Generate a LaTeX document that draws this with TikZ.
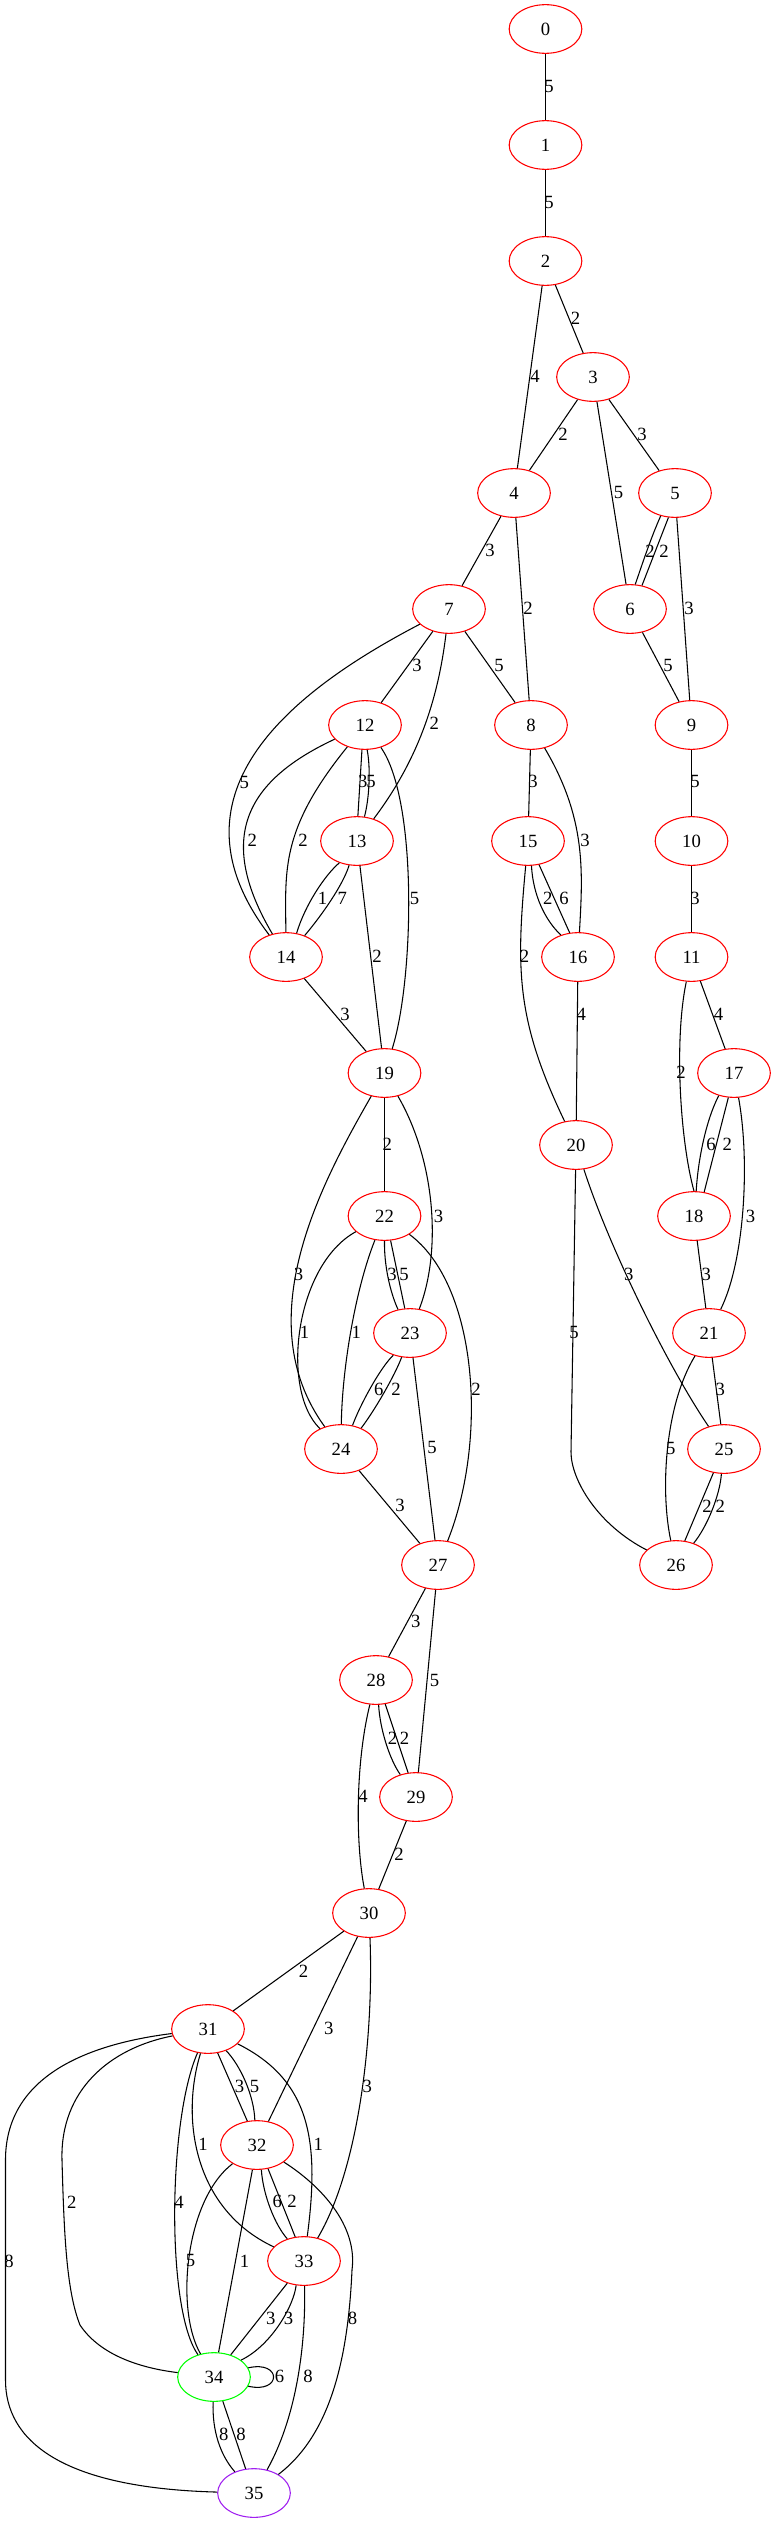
\documentclass[tikz,border=0pt]{standalone}
\usepackage{fontspec}
\setmainfont{Liberation Serif}
\usetikzlibrary{shapes.geometric}
\definecolor{vgreen}{RGB}{0,255,0}
\definecolor{vpurple}{RGB}{160,32,240}
\begin{document}
\begin{tikzpicture}[x=0.75pt, y=-0.75pt,
        vtx/.style={ellipse, draw=red, line width=0.8pt, minimum width=54.5pt, minimum height=36.5pt, inner sep=0pt, font=\fontsize{14}{16}\selectfont},
        wt/.style={inner sep=0pt, font=\fontsize{14}{16}\selectfont},
        lk/.style={line width=0.8pt}]
        \useasboundingbox (0,0) rectangle (776,2523);

        % vertices
        \node[vtx] (n0) at (545.5,29) {0};
        \node[vtx] (n1) at (545.5,145) {1};
        \node[vtx] (n2) at (545.5,261) {2};
        \node[vtx] (n3) at (593,377) {3};
        \node[vtx] (n4) at (514,493) {4};
        \node[vtx] (n5) at (675,493) {5};
        \node[vtx] (n6) at (630,609) {6};
        \node[vtx] (n7) at (449,609) {7};
        \node[vtx] (n8) at (531,725) {8};
        \node[vtx] (n9) at (691.5,725) {9};
        \node[vtx] (n10) at (691.5,841) {10};
        \node[vtx] (n11) at (691.5,957) {11};
        \node[vtx] (n12) at (365,725) {12};
        \node[vtx] (n13) at (357,841) {13};
        \node[vtx] (n14) at (286,957) {14};
        \node[vtx] (n15) at (528,841) {15};
        \node[vtx] (n16) at (578,957) {16};
        \node[vtx] (n17) at (734,1073) {17};
        \node[vtx] (n18) at (694,1216) {18};
        \node[vtx] (n19) at (384.5,1073) {19};
        \node[vtx] (n20) at (576,1145) {20};
        \node[vtx] (n21) at (709,1333) {21};
        \node[vtx] (n22) at (384.5,1216) {22};
        \node[vtx] (n23) at (410,1333) {23};
        \node[vtx] (n24) at (341,1449) {24};
        \node[vtx] (n25) at (724,1449) {25};
        \node[vtx] (n26) at (676,1565) {26};
        \node[vtx] (n27) at (438,1565) {27};
        \node[vtx] (n28) at (376,1680) {28};
        \node[vtx] (n29) at (416,1797) {29};
        \node[vtx] (n30) at (369,1913) {30};
        \node[vtx] (n31) at (208,2029) {31};
        \node[vtx] (n32) at (257,2145) {32};
        \node[vtx] (n33) at (304,2261) {33};
        \node[vtx, draw=vgreen] (n34) at (214,2377) {34};
        \node[vtx, draw=vpurple] (n35) at (254,2493) {35};

        % upper part
        \draw[lk] (n0) -- (n1) node[wt] at (549,86) {5};
        \draw[lk] (n1) -- (n2) node[wt] at (549,202) {5};
        \draw[lk] (n2) -- (n3) node[wt] at (575.5,318) {2};
        \draw[lk] (n2) -- (n4) node[wt] at (535,376) {4};
        \draw[lk] (n3) -- (n4) node[wt] at (563,434) {2};
        \draw[lk] (n3) -- (n5) node[wt] at (642,434) {3};
        \draw[lk] (n3) -- (n6) node[wt] at (618.5,492) {5};
        \draw[lk] (n4) -- (n7) node[wt] at (490,550) {3};
        \draw[lk] (n4) -- (n8) node[wt] at (528,608) {2};
        \draw[lk] (n5.238) .. controls (650,540) and (642,565) .. (n6.78) node[wt] at (650,551) {2};
        \draw[lk] (n5.255) -- (n6.63) node[wt] at (664,551) {2};
        \draw[lk] (n5) -- (n9) node[wt] at (689,608) {3};
        \draw[lk] (n6) -- (n9) node[wt] at (668,665) {5};
        \draw[lk] (n7) -- (n12) node[wt] at (417,665) {3};
        \draw[lk] (n7) -- (n8) node[wt] at (499,665) {5};
        \draw[lk] (n7) .. controls (438,700) and (418,760) .. (n13) node[wt] at (434.4,723.7) {2};
        \draw[lk] (n7) .. controls (284,695) and (164,797) .. (n14) node[wt] at (244.4,782) {5};
        \draw[lk] (n12) .. controls (243,782) and (217,840) .. (n14) node[wt] at (252.4,840) {2};
        \draw[lk] (n12) .. controls (280,830) and (285.5,870) .. (n14) node[wt] at (303,840) {2};
        \draw[lk] (n12.263) -- (n13.88) node[wt] at (362.7,781.6) {3};
        \draw[lk] (n12.275) .. controls (371,770) and (369,800) .. (n13.73) node[wt] at (371,781.6) {5};
        \draw[lk] (n12) .. controls (418,800) and (414,980) .. (n19) node[wt] at (414.6,898) {5};
        \draw[lk] (n13.231.5) .. controls (325,875) and (305,905) .. (n14.66) node[wt] at (322.6,898.8) {1};
        \draw[lk] (n13.252) .. controls (343,885) and (322,915) .. (n14.49) node[wt] at (342.4,898.8) {7};
        \draw[lk] (n13) -- (n19) node[wt] at (377,956.7) {2};
        \draw[lk] (n14) -- (n19) node[wt] at (345,1014) {3};
        \draw[lk] (n8) -- (n15) node[wt] at (533,781.6) {3};
        \draw[lk] (n8) .. controls (586,818) and (583,870) .. (n16) node[wt] at (585,840) {3};
        \draw[lk] (n15.278) .. controls (533,895) and (545,920) .. (n16.128) node[wt] at (547.8,898.8) {2};
        \draw[lk] (n15.295) -- (n16.109) node[wt] at (564,898.8) {6};
        \draw[lk] (n15) .. controls (516,970) and (516,1020) .. (n20) node[wt] at (524.5,956.7) {2};
        \draw[lk] (n16) -- (n20) node[wt] at (581.4,1014) {4};
        \draw[lk] (n9) -- (n10) node[wt] at (695,781.6) {5};
        \draw[lk] (n10) -- (n11) node[wt] at (695,898) {3};
        \draw[lk] (n11) -- (n17) node[wt] at (718.5,1014) {4};
        \draw[lk] (n11) .. controls (674,1040) and (680,1140) .. (n18.90) node[wt] at (681,1072.7) {2};
        \draw[lk] (n17.236) .. controls (706,1120) and (698,1160) .. (n18.85) node[wt] at (711,1144) {6};
        \draw[lk] (n17.257) -- (n18.67) node[wt] at (727.4,1144) {2};
        \draw[lk] (n17) .. controls (750,1160) and (745,1260) .. (n21) node[wt] at (750.6,1216) {3};

        % middle part
        \draw[lk] (n19) -- (n22) node[wt] at (387.4,1144) {2};
        \draw[lk] (n19) .. controls (322,1182) and (247,1320) .. (n24) node[wt] at (298.5,1274) {3};
        \draw[lk] (n19) .. controls (435,1160) and (442,1250) .. (n23) node[wt] at (438.6,1216.3) {3};
        \draw[lk] (n22) .. controls (295,1265) and (280,1390) .. (n24) node[wt] at (304.5,1332.7) {1};
        \draw[lk] (n22) .. controls (355,1290) and (342,1370) .. (n24) node[wt] at (356.4,1332.7) {1};
        \draw[lk] (n22.270) .. controls (384,1265) and (390,1292) .. (n23.117) node[wt] at (392,1274) {3};
        \draw[lk] (n22.284) -- (n23.102) node[wt] at (404,1274) {5};
        \draw[lk] (n22) .. controls (478,1285) and (488,1440) .. (n27) node[wt] at (476,1389.6) {2};
        \draw[lk] (n23.233) .. controls (380,1368) and (360,1405) .. (n24.64) node[wt] at (378.7,1389.6) {6};
        \draw[lk] (n23.251) .. controls (395,1375) and (375,1410) .. (n24.46) node[wt] at (396,1389.6) {2};
        \draw[lk] (n23) -- (n27) node[wt] at (432,1447.5) {5};
        \draw[lk] (n24) -- (n27) node[wt] at (400,1505.4) {3};
        \draw[lk] (n20) .. controls (610,1250) and (670,1370) .. (n25) node[wt] at (628.7,1274) {3};
        \draw[lk] (n20) -- (571,1452) .. controls (571,1480) and (598,1525) .. (n26) node[wt] at (574,1332) {5};
        \draw[lk] (n21) .. controls (665,1405) and (660,1490) .. (n26) node[wt] at (670.8,1448.5) {5};
        \draw[lk] (n18) -- (n21) node[wt] at (706.4,1274) {3};
        \draw[lk] (n21) -- (n25) node[wt] at (720.3,1389.6) {3};
        \draw[lk] (n25.246.5) -- (n26.70) node[wt] at (707,1506) {2};
        \draw[lk] (n25.264) .. controls (720,1495) and (707,1527) .. (n26.51) node[wt] at (720.3,1506) {2};
        \draw[lk] (n27) -- (n28) node[wt] at (415.8,1621.8) {3};
        \draw[lk] (n27) -- (n29) node[wt] at (434.6,1680) {5};
        \draw[lk] (n28.276) .. controls (380,1730) and (390,1760) .. (n29.125) node[wt] at (392.6,1738.6) {2};
        \draw[lk] (n28.291) -- (n29.108) node[wt] at (404.5,1738.6) {2};
        \draw[lk] (n28) .. controls (356,1760) and (355,1840) .. (n30) node[wt] at (363,1796.5) {4};
        \draw[lk] (n29) -- (n30) node[wt] at (399,1854.5) {2};

        % lower part
        \draw[lk] (n30) -- (n31) node[wt] at (303.5,1970.8) {2};
        \draw[lk] (n30) -- (n32) node[wt] at (328.7,2028) {3};
        \draw[lk] (n30) .. controls (374,2040) and (358,2170) .. (n33) node[wt] at (367.3,2086.6) {3};
        \draw[lk] (n31.292) -- (n32.112) node[wt] at (239.6,2086.6) {3};
        \draw[lk] (n31.310) .. controls (240,2065) and (254,2095) .. (n32.95) node[wt] at (254.5,2086.6) {5};
        \draw[lk] (n31) .. controls (180,2120) and (195,2210) .. (n33) node[wt] at (203,2144.5) {1};
        \draw[lk] (n31) .. controls (310,2080) and (320,2140) .. (n33) node[wt] at (318.3,2144.5) {1};
        \draw[lk] (n31) .. controls (168,2120) and (166,2310) .. (n34) node[wt] at (179,2202.4) {4};
        \draw[lk] (n31) .. controls (110,2048) and (60,2090) .. (62,2160) .. controls (64,2230) and (66,2290) .. (80,2325) .. controls (100,2355) and (140,2368) .. (n34) node[wt] at (71.8,2202.4) {2};
        \draw[lk] (n31) .. controls (80,2045) and (5.5,2080) .. (5.5,2160) -- (5.5,2380) .. controls (5.5,2440) and (60,2488) .. (n35) node[wt] at (9,2260.9) {8};
        \draw[lk] (n32.280) .. controls (263,2195) and (275,2225) .. (n33.127) node[wt] at (277.2,2201.5) {6};
        \draw[lk] (n32.295) -- (n33.110) node[wt] at (292,2201.5) {2};
        \draw[lk] (n32) .. controls (185,2200) and (175,2310) .. (n34) node[wt] at (190.6,2260.9) {5};
        \draw[lk] (n32) -- (n34) node[wt] at (244.6,2260.9) {1};
        \draw[lk] (n32) .. controls (320,2185) and (358,2225) .. (352,2270) .. controls (348,2360) and (330,2435) .. (n35) node[wt] at (352.5,2318.8) {8};
        \draw[lk] (n33.233.5) -- (n34.53) node[wt] at (270.8,2318.8) {3};
        \draw[lk] (n33.252) .. controls (294,2305) and (272,2345) .. (n34.32) node[wt] at (288.6,2318.8) {3};
        \draw[lk] (n33) .. controls (306,2350) and (295,2420) .. (n35) node[wt] at (308,2376.7) {8};
        \draw[lk] (n34.15) .. controls (282,2360) and (282,2394) .. (n34.345) node[wt] at (279.5,2376.5) {6};
        \draw[lk] (n34.268) .. controls (212,2430) and (220,2455) .. (n35.132) node[wt] at (223.8,2434) {8};
        \draw[lk] (n34.290) -- (n35.109) node[wt] at (241,2434) {8};
\end{tikzpicture}
\end{document}
